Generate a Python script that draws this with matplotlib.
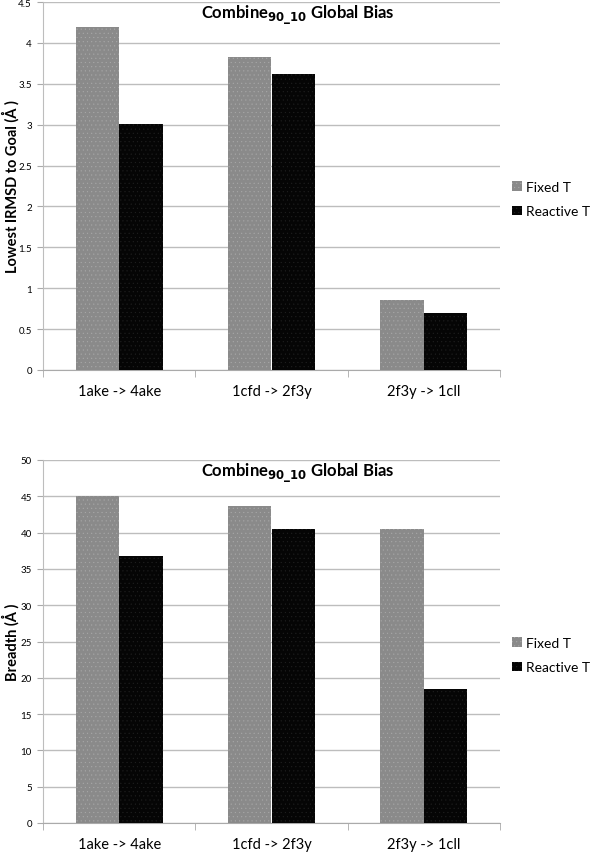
import matplotlib
matplotlib.use("Agg")
import matplotlib.pyplot as plt
import numpy as np

plt.rcParams['font.family'] = ['Lato', 'DejaVu Sans']
plt.rcParams['hatch.linewidth'] = 0.3

categories = ["1ake -> 4ake", "1cfd -> 2f3y", "2f3y -> 1cll"]
series = ["Fixed T", "Reactive T"]
rmsd_fixed = [4.20, 3.83, 0.85]
rmsd_reactive = [3.01, 3.62, 0.70]
breadth_fixed = [45.0, 43.6, 40.5]
breadth_reactive = [36.8, 40.5, 18.5]
title = r"Combine$_{\mathbf{90\_10}}$ Global Bias"

W, H = 600, 853
fig = plt.figure(figsize=(W/100, H/100), dpi=100)

def make_ax(top, bottom, fixed, reactive, ymax, ystep, ylabel, leg_y):
    ax = fig.add_axes([43/W, 1 - bottom/H, (500-43)/W, (bottom-top)/H])
    x = np.arange(len(categories))
    bw = 0.285
    ax.bar(x - bw/2, fixed, bw, color='#8a8a8a', edgecolor='#a8a8a8', linewidth=0,
           hatch='....', label=series[0], zorder=3)
    ax.bar(x + bw/2, reactive, bw, color='#050505', edgecolor='#202020', linewidth=0,
           hatch='....', label=series[1], zorder=3)
    ax.set_xlim(-0.5, len(categories) - 0.5)
    ax.set_ylim(0, ymax)
    ticks = np.arange(0, ymax + ystep/2, ystep)
    ax.set_yticks(ticks)
    ax.set_yticklabels([f"{v:g}" for v in ticks], fontsize=7)
    ax.yaxis.grid(True, color='#bdbdbd', linewidth=1.0, zorder=0)
    ax.set_axisbelow(True)
    ax.set_xticks(x)
    ax.set_xticklabels(categories, fontsize=10.5)
    ax.tick_params(axis='x', length=0, pad=10)
    ax.set_xticks(np.arange(-0.5, len(categories)), minor=True)
    ax.tick_params(axis='x', which='minor', length=5, color='#aaaaaa', direction='out')
    ax.tick_params(axis='y', length=4, color='#aaaaaa', pad=4)
    for s in ['top', 'right']:
        ax.spines[s].set_visible(False)
    ax.spines['left'].set_color('#bdbdbd')
    ax.spines['bottom'].set_color('#aaaaaa')
    ax.set_ylabel(ylabel, fontsize=10.5, fontweight='bold')
    ax.yaxis.set_label_coords(20/W, 1 - (top + bottom)/2/H, transform=fig.transFigure)
    fig.text(298/W, 1 - (top + 12)/H, title, fontsize=12, fontweight='bold',
             ha='center', va='center')
    ax.legend(loc='center left', bbox_to_anchor=(512/W, 1 - leg_y/H),
              bbox_transform=fig.transFigure, frameon=False, fontsize=10,
              handlelength=0.7, handleheight=0.7, handletextpad=0.3, labelspacing=0.9,
              borderaxespad=0, borderpad=0)
    return ax

make_ax(3, 371, rmsd_fixed, rmsd_reactive, 4.5, 0.5,
        "Lowest IRMSD to Goal (Å )", 200)
make_ax(461, 824, breadth_fixed, breadth_reactive, 50, 5,
        "Breadth (Å )", 656)

fig.savefig("out.png", dpi=100)
